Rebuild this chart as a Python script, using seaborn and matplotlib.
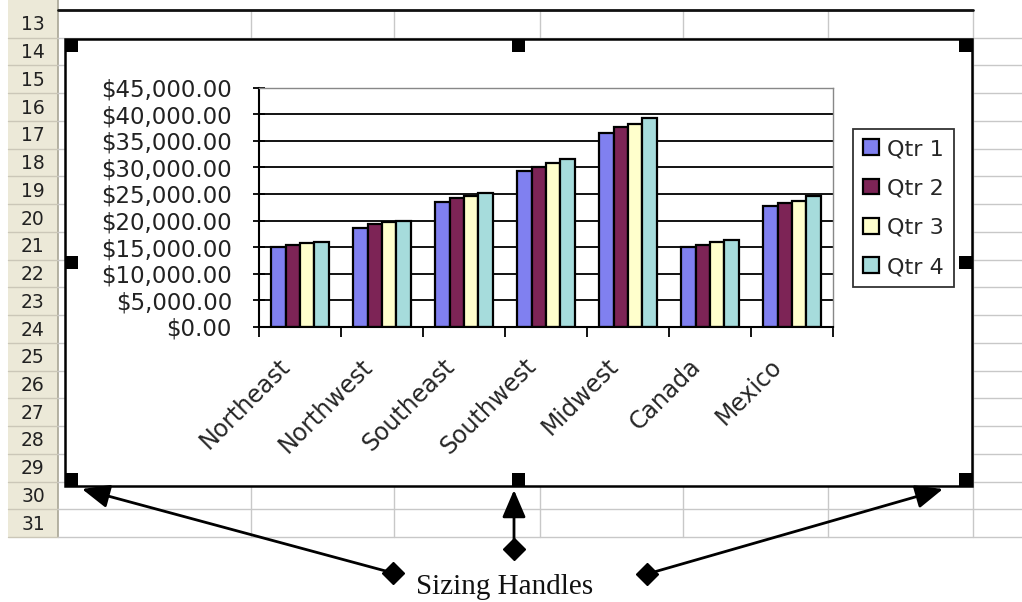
import numpy as np
import pandas as pd
import matplotlib
matplotlib.use("Agg")
import matplotlib.pyplot as plt
import matplotlib.transforms as mtransforms
from matplotlib.ticker import FuncFormatter, MultipleLocator, FixedLocator
import seaborn as sns

# ---------------- data ----------------
regions = ["Northeast", "Northwest", "Southeast", "Southwest", "Midwest", "Canada", "Mexico"]
quarters = ["Qtr 1", "Qtr 2", "Qtr 3", "Qtr 4"]
qtr1 = [15000, 18600, 23400, 29400, 36400, 15100, 22700]
qtr2 = [15400, 19300, 24200, 30000, 37500, 15500, 23300]
qtr3 = [15700, 19700, 24700, 30800, 38200, 15900, 23700]
qtr4 = [16000, 19900, 25200, 31600, 39300, 16300, 24600]
row_numbers = list(range(13, 32))
annotation_text = "Sizing Handles"

colors = ["#8080f0", "#7d2456", "#ffffcc", "#a6dcdc"]

df = pd.DataFrame({
    "Region": regions * 4,
    "Quarter": sum([[q] * len(regions) for q in quarters], []),
    "Sales": qtr1 + qtr2 + qtr3 + qtr4,
})

sns.set_theme(style="white")
plt.rcParams["font.family"] = ["DejaVu Sans"]

W, H = 1022, 602
fig = plt.figure(figsize=(W / 100, H / 100), dpi=100)
fig.patch.set_facecolor("white")

# ---------------- spreadsheet background ----------------
bg = fig.add_axes([0, 0, 1, 1], zorder=0)
bg.set_xlim(0, W)
bg.set_ylim(H, 0)
bg.axis("off")

top, rh = 10.0, 27.74
nrows = len(row_numbers)
bottom_sheet = top + nrows * rh
hdr_l, hdr_r = 8, 58
grid_c = "#c8c8c8"
bg.add_patch(plt.Rectangle((hdr_l, 0), hdr_r - hdr_l, bottom_sheet, facecolor="#ece9d8", edgecolor="none"))
bg.plot([hdr_r, hdr_r], [0, bottom_sheet], color="#a8a595", lw=1.2)
for i, r in enumerate(row_numbers):
    y0 = top + i * rh
    bg.plot([hdr_l, hdr_r], [y0 + rh, y0 + rh], color="#cbc7b8", lw=1)
    bg.plot([hdr_r, W], [y0 + rh, y0 + rh], color=grid_c, lw=1)
    bg.text(33, y0 + rh / 2 + 1, str(r), ha="center", va="center",
            fontsize=13.5, color="#222222")
for x in [251, 394, 540, 683, 828, 973]:
    bg.plot([x, x], [top, bottom_sheet], color=grid_c, lw=1)
bg.plot([hdr_r, 973], [top, top], color="#111111", lw=2)

# chart area
cx0, cy0, cx1, cy1 = 65, 39, 972, 486
bg.add_patch(plt.Rectangle((cx0, cy0), cx1 - cx0, cy1 - cy0, facecolor="white",
                           edgecolor="black", lw=1.8, zorder=3))
hs = 13
handle_pos = [(cx0, cy0), (512, cy0), (cx1 - hs, cy0),
              (cx0, 256), (cx1 - hs, 256),
              (cx0, cy1 - hs), (512, cy1 - hs), (cx1 - hs, cy1 - hs)]
for hx, hy in handle_pos:
    bg.add_patch(plt.Rectangle((hx, hy), hs, hs, facecolor="black", edgecolor="none", zorder=4))

# arrows
arrow_specs = [((393, 573), (82, 489)), ((514, 549), (514, 490)), ((647, 574), (943, 489))]
for (tx, ty), (hx, hy) in arrow_specs:
    bg.annotate("", xy=(hx, hy), xytext=(tx, ty),
                arrowprops=dict(arrowstyle="-|>,head_length=1.4,head_width=0.6", color="black",
                                lw=2, shrinkA=0, shrinkB=0), zorder=5)
    bg.plot([tx], [ty], marker="D", markersize=11, color="black", zorder=5)
bg.text(505, 587, annotation_text, ha="center", va="center", fontsize=21,
        family=["Liberation Serif"], color="#111111")

# ---------------- bar chart ----------------
px0, px1, py0, py1 = 259, 833, 87.5, 327
ax = fig.add_axes([px0 / W, 1 - py1 / H, (px1 - px0) / W, (py1 - py0) / H], zorder=2)
sns.barplot(data=df, x="Region", y="Sales", hue="Quarter", palette=colors, width=0.7,
            saturation=1, edgecolor="black", linewidth=1.6, ax=ax, gap=0)
ax.set_ylim(0, 45000)
ax.set_xlim(-0.5, len(regions) - 0.5)
ax.set_facecolor("white")
ax.set_xlabel("")
ax.set_ylabel("")
ax.yaxis.set_major_locator(MultipleLocator(5000))
ax.yaxis.set_major_formatter(FuncFormatter(lambda v, p: f"${v:,.2f}"))
for yv in range(5000, 45000, 5000):
    ax.axhline(yv, color="black", lw=1.3, zorder=0)
for s in ["top", "right"]:
    ax.spines[s].set_color("#888888")
    ax.spines[s].set_linewidth(1)
for s in ["left", "bottom"]:
    ax.spines[s].set_color("black")
    ax.spines[s].set_linewidth(1.5)
ax.tick_params(axis="y", direction="inout", length=9, width=1.3, color="black",
               labelsize=16.5, pad=15, left=True)
ax.tick_params(axis="x", which="major", length=0, labelsize=17, pad=0)
ax.xaxis.set_minor_locator(FixedLocator(np.arange(-0.5, len(regions), 1.0)))
ax.tick_params(axis="x", which="minor", direction="out", length=7, width=1.3, color="black", bottom=True)
ax.set_xticks(range(len(regions)))
ax.set_xticklabels(regions, rotation=45, ha="right", va="top", rotation_mode="anchor")
offset = mtransforms.ScaledTranslation(-22 / 100, -27 / 100, fig.dpi_scale_trans)
for lbl in ax.get_xticklabels():
    lbl.set_transform(lbl.get_transform() + offset)
for lbl in ax.get_yticklabels():
    lbl.set_color("#222222")

handles, labels = ax.get_legend_handles_labels()
ax.get_legend().remove()
leg = fig.legend(handles, labels, loc="upper left", bbox_to_anchor=(853 / W, 1 - 129 / H),
                 bbox_transform=fig.transFigure, frameon=True, fancybox=False, fontsize=16,
                 handlelength=0.72, handleheight=0.72, handletextpad=0.35, labelspacing=0.87,
                 borderpad=0.45, borderaxespad=0)
leg.get_frame().set_edgecolor("black")
leg.get_frame().set_linewidth(1.3)
leg.set_zorder(6)

fig.savefig("out.png", dpi=100, facecolor="white")
